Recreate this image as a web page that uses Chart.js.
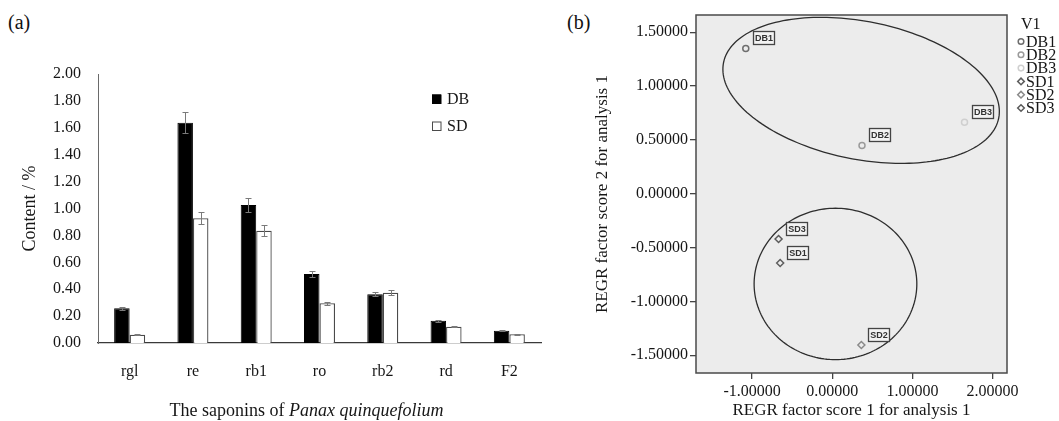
<!DOCTYPE html>
<html>
<head>
<meta charset="utf-8">
<script src="https://cdn.jsdelivr.net/npm/chart.js@4.4.1/dist/chart.umd.min.js"></script>
<style>
body { margin: 0; background: #fff; width: 1059px; height: 421px; overflow: hidden; position: relative; font-family: 'Liberation Serif', 'Times New Roman', serif; }
#chartA { position: absolute; left: 0; top: 0; }
#chartB { position: absolute; left: 545px; top: 0; }
.panel { position: absolute; top: 12px; font-size: 20px; line-height: 20px; color: #111; }
</style>
</head>
<body>
<span class="panel" style="left:8px">(a)</span>
<span class="panel" style="left:567px">(b)</span>
<canvas id="chartA" width="545" height="421"></canvas>
<canvas id="chartB" width="514" height="421"></canvas>
<script>
// (a) saponin content
var saponins = ['rgl', 're', 'rb1', 'ro', 'rb2', 'rd', 'F2']
var contentDB = [0.258, 1.638, 1.026, 0.513, 0.362, 0.166, 0.091]
var contentSD = [0.062, 0.927, 0.835, 0.295, 0.374, 0.121, 0.065]
var errorDB = [0.01, 0.08, 0.05, 0.025, 0.015, 0.007, 0.005]
var errorSD = [0.003, 0.045, 0.04, 0.012, 0.02, 0.005, 0.003]
var contentTicks = [0, 0.2, 0.4, 0.6, 0.8, 1.0, 1.2, 1.4, 1.6, 1.8, 2.0]

// (b) factor scores
var samples = ['DB1', 'DB2', 'DB3', 'SD1', 'SD2', 'SD3']
var score1 = [-1.079, 0.371, 1.65, -0.65, 0.363, -0.67]
var score2 = [1.349, 0.448, 0.665, -0.643, -1.405, -0.42]
var score1Ticks = [-1, 0, 1, 2]
var score2Ticks = [-1.5, -1, -0.5, 0, 0.5, 1, 1.5]
// group ellipses in data units: centre, two conjugate semi-axes
var groupEllipses = [
	{cx: 0.36, cy: 0.96, ux: 1.716, uy: -0.259, vx: -0.171, vy: -0.627},
	{cx: 0.04, cy: -0.838, ux: 1.015, uy: 0, vx: 0, vy: 0.703}
]

var serif = "'Liberation Serif', 'Times New Roman', serif"
var textColor = '#161616'

var errorBars = {
	id: 'errorBars',
	afterDatasetsDraw: function(chart) {
		var ctx = chart.ctx
		var y = chart.scales.y
		ctx.save()
		ctx.strokeStyle = '#7a7a7a'
		ctx.lineWidth = 1
		chart.data.datasets.forEach(function(ds, i) {
			chart.getDatasetMeta(i).data.forEach(function(bar, j) {
				var top = Math.round(y.getPixelForValue(ds.data[j] + ds.errors[j])) + 0.5
				var bot = Math.round(y.getPixelForValue(ds.data[j] - ds.errors[j])) + 0.5
				var x = Math.round(bar.x) + 0.5
				ctx.beginPath()
				ctx.moveTo(x, top); ctx.lineTo(x, bot)
				ctx.moveTo(x - 3, top); ctx.lineTo(x + 3, top)
				ctx.moveTo(x - 3, bot); ctx.lineTo(x + 3, bot)
				ctx.stroke()
			})
		})
		ctx.restore()
	}
}

var legendA = {
	id: 'legendA',
	afterDraw: function(chart) {
		var ctx = chart.ctx, a = chart.chartArea
		ctx.save()
		ctx.font = '16px ' + serif
		ctx.textBaseline = 'middle'
		chart.data.datasets.forEach(function(ds, i) {
			var x = a.right - 109, y = a.top + 25 + i * 27
			ctx.fillStyle = ds.backgroundColor
			ctx.fillRect(x, y - 4.5, 9, 9)
			ctx.strokeStyle = ds.borderColor
			ctx.lineWidth = 1
			ctx.strokeRect(x + 0.5, y - 4, 8.5, 8.5)
			ctx.fillStyle = textColor
			ctx.fillText(ds.label, x + 15, y + 1)
		})
		ctx.restore()
	}
}

var xTitleA = {
	id: 'xTitleA',
	afterDraw: function(chart) {
		var ctx = chart.ctx, a = chart.chartArea
		var plain = 'The saponins of ', ital = 'Panax quinquefolium'
		ctx.save()
		ctx.fillStyle = textColor
		ctx.textBaseline = 'alphabetic'
		ctx.font = '18px ' + serif
		var w1 = ctx.measureText(plain).width
		ctx.font = 'italic 18px ' + serif
		var w2 = ctx.measureText(ital).width
		var x = (a.left + a.right) / 2 - 13 - (w1 + w2) / 2
		ctx.font = '18px ' + serif
		ctx.fillText(plain, x, 416)
		ctx.font = 'italic 18px ' + serif
		ctx.fillText(ital, x + w1, 416)
		ctx.restore()
	}
}

new Chart(document.getElementById('chartA'), {
	type: 'bar',
	data: {
		labels: saponins,
		datasets: [{
			label: 'DB',
			data: contentDB,
			errors: errorDB,
			backgroundColor: '#000000',
			borderColor: '#000000',
			borderWidth: 1,
		}, {
			label: 'SD',
			data: contentSD,
			errors: errorSD,
			backgroundColor: '#ffffff',
			borderColor: '#4a4a4a',
			borderWidth: 1.3,
		}]
	},
	options: {
		responsive: false,
		animation: false,
		categoryPercentage: 0.49,
		barPercentage: 1,
		layout: {padding: {left: 0, top: 74, right: 4, bottom: 0}},
		plugins: {legend: {display: false}, tooltip: {enabled: false}},
		scales: {
			x: {
				grid: {display: false},
				border: {display: true, color: '#3a3a3a', width: 1.2},
				ticks: {font: {family: serif, size: 16}, color: textColor, padding: 11, maxRotation: 0},
				afterFit: function(s) { s.height = 78 }
			},
			y: {
				min: 0,
				max: 2,
				grid: {display: false},
				border: {display: true, color: '#6a6a6a', width: 1},
				ticks: {font: {family: serif, size: 16}, color: textColor, padding: 9, callback: function(v) { return v.toFixed(2) }},
				afterBuildTicks: function(s) { s.ticks = contentTicks.map(function(v) { return {value: v} }) },
				afterFit: function(s) { s.width = 98 },
				title: {display: true, text: 'Content / %', font: {family: serif, size: 18}, color: textColor, padding: {top: 19, bottom: 0}}
			}
		}
	},
	plugins: [errorBars, legendA, xTitleA]
})

// (b) plot helpers
var plotFrame = {
	id: 'plotFrame',
	beforeDraw: function(chart) {
		var ctx = chart.ctx, a = chart.chartArea
		ctx.save()
		ctx.fillStyle = '#ececec'
		ctx.fillRect(a.left, a.top, a.right - a.left, a.bottom - a.top)
		ctx.restore()
	},
	afterDraw: function(chart) {
		var ctx = chart.ctx, a = chart.chartArea
		ctx.save()
		ctx.strokeStyle = '#4a4a4a'
		ctx.lineWidth = 1.5
		ctx.strokeRect(a.left, a.top, a.right - a.left, a.bottom - a.top)
		ctx.restore()
	}
}

var ellipses = {
	id: 'ellipses',
	beforeDatasetsDraw: function(chart) {
		var ctx = chart.ctx, xs = chart.scales.x, ys = chart.scales.y
		ctx.save()
		ctx.strokeStyle = '#2e2e2e'
		ctx.lineWidth = 1.3
		groupEllipses.forEach(function(e) {
			ctx.beginPath()
			for (var k = 0; k <= 180; k++) {
				var t = k / 180 * Math.PI * 2
				var px = xs.getPixelForValue(e.cx + e.ux * Math.cos(t) + e.vx * Math.sin(t))
				var py = ys.getPixelForValue(e.cy + e.uy * Math.cos(t) + e.vy * Math.sin(t))
				if (k === 0) ctx.moveTo(px, py)
				else ctx.lineTo(px, py)
			}
			ctx.closePath()
			ctx.stroke()
		})
		ctx.restore()
	}
}

var pointTags = {
	id: 'pointTags',
	afterDatasetsDraw: function(chart) {
		var ctx = chart.ctx
		ctx.save()
		ctx.font = 'bold 9px "Liberation Sans", Arial, sans-serif'
		ctx.textAlign = 'center'
		ctx.textBaseline = 'middle'
		chart.data.datasets.forEach(function(ds, i) {
			var p = chart.getDatasetMeta(i).data[0]
			var cx = Math.round(p.x + 18), cy = Math.round(p.y - 10)
			ctx.fillStyle = '#f3f3f3'
			ctx.fillRect(cx - 10.5, cy - 6.5, 21, 13)
			ctx.strokeStyle = '#444'
			ctx.lineWidth = 1.3
			ctx.strokeRect(cx - 10.5, cy - 6.5, 21, 13)
			ctx.fillStyle = '#333'
			ctx.fillText(ds.label, cx, cy + 0.5)
		})
		ctx.restore()
	}
}

function drawMarker(ctx, style, x, y, r) {
	ctx.beginPath()
	if (style === 'rectRot') {
		ctx.moveTo(x, y - r); ctx.lineTo(x + r, y); ctx.lineTo(x, y + r); ctx.lineTo(x - r, y)
		ctx.closePath()
	} else {
		ctx.arc(x, y, r, 0, Math.PI * 2)
	}
	ctx.stroke()
}

var legendB = {
	id: 'legendB',
	afterDraw: function(chart) {
		var ctx = chart.ctx, a = chart.chartArea
		var x = a.right + 13
		ctx.save()
		ctx.font = '16px ' + serif
		ctx.textBaseline = 'middle'
		ctx.fillStyle = textColor
		ctx.fillText('V1', x + 1, 25)
		chart.data.datasets.forEach(function(ds, i) {
			var y = 41.5 + i * 13.3
			ctx.strokeStyle = ds.borderColor
			ctx.lineWidth = 1.5
			drawMarker(ctx, ds.pointStyle, x + 1, y, ds.pointStyle === 'rectRot' ? 3.3 : 2.8)
			ctx.fillStyle = textColor
			ctx.fillText(ds.label, x + 6, y + 1)
		})
		ctx.restore()
	}
}

var shadesB = ['#6e6e6e', '#9a9a9a', '#cfcfcf', '#5e5e5e', '#8a8a8a', '#5a5a5a']

new Chart(document.getElementById('chartB'), {
	type: 'scatter',
	data: {
		datasets: samples.map(function(name, i) {
			return {
				label: name,
				data: [{x: score1[i], y: score2[i]}],
				pointStyle: name.indexOf('SD') === 0 ? 'rectRot' : 'circle',
				pointRadius: name.indexOf('SD') === 0 ? 3.5 : 3,
				pointBorderWidth: 1.5,
				borderColor: shadesB[i],
				backgroundColor: 'rgba(0,0,0,0)'
			}
		})
	},
	options: {
		responsive: false,
		animation: false,
		layout: {padding: {left: 0, top: 15, right: 52, bottom: 0}},
		plugins: {legend: {display: false}, tooltip: {enabled: false}},
		scales: {
			x: {
				type: 'linear',
				min: -1.70,
				max: 2.18,
				grid: {drawOnChartArea: false, drawTicks: true, tickLength: 6, color: '#444', lineWidth: 1.3},
				border: {display: false},
				ticks: {font: {family: serif, size: 16}, color: textColor, padding: 3, maxRotation: 0, callback: function(v) { return v.toFixed(5) }},
				afterBuildTicks: function(s) { s.ticks = score1Ticks.map(function(v) { return {value: v} }) },
				afterFit: function(s) { s.height = 48 },
				title: {display: true, text: 'REGR factor score 1 for analysis 1', font: {family: serif, size: 17}, color: textColor, padding: 0}
			},
			y: {
				type: 'linear',
				min: -1.665,
				max: 1.66,
				grid: {drawOnChartArea: false, drawTicks: true, tickLength: 6, color: '#444', lineWidth: 1.3},
				border: {display: false},
				ticks: {font: {family: serif, size: 16}, color: textColor, padding: 2, callback: function(v) { return v.toFixed(5) }},
				afterBuildTicks: function(s) { s.ticks = score2Ticks.map(function(v) { return {value: v} }) },
				afterFit: function(s) { s.width = 151 },
				title: {display: true, text: 'REGR factor score 2 for analysis 1', font: {family: serif, size: 17}, color: textColor, padding: {top: 47, bottom: 0}}
			}
		}
	},
	plugins: [plotFrame, ellipses, pointTags, legendB]
})
</script>
</body>
</html>
